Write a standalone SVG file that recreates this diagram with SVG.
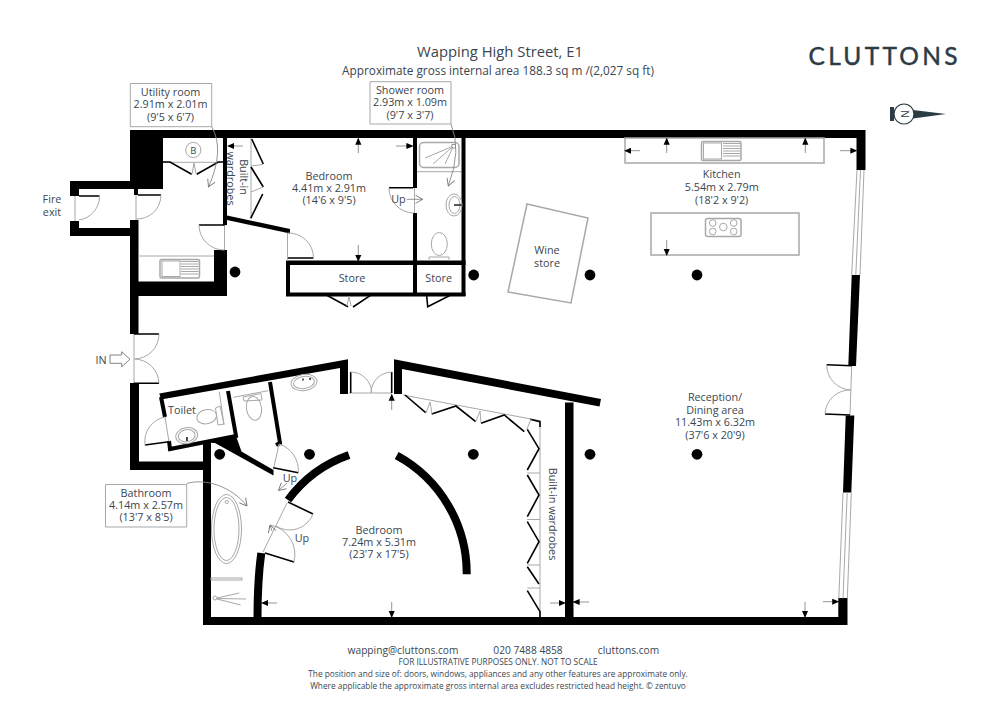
<svg xmlns="http://www.w3.org/2000/svg" width="1000" height="706" viewBox="0 0 1000 706">
<defs>
<style>
text{font-family:"Open Sans","Noto Sans","DejaVu Sans",sans-serif;fill:#3b4650;font-size:10.8px;text-anchor:middle}
.w{fill:#000;stroke:none}
.ws{fill:none;stroke:#000;stroke-width:4}
.k{fill:none;stroke:#000;stroke-width:1.6}
.g{fill:none;stroke:#a8a8a8;stroke-width:1}
.f{fill:#fff;stroke:#a8a8a8;stroke-width:1}
.g2{fill:none;stroke:#a8a8a8;stroke-width:1.5}
.d{fill:#000}
.a{fill:none;stroke:#888;stroke-width:.9}
.ft{font-size:8.3px}
.fm{font-size:10.2px}
</style>
<marker id="ah" viewBox="0 0 8 8" refX="7" refY="4" markerWidth="7" markerHeight="7" orient="auto-start-reverse" markerUnits="userSpaceOnUse"><path d="M0,0.5L8,4L0,7.5Z" fill="#000"/></marker>
<marker id="op" viewBox="0 0 10 10" refX="9" refY="5" markerWidth="9" markerHeight="9" orient="auto" markerUnits="userSpaceOnUse"><path d="M1,0.5L9,5L1,9.5" fill="none" stroke="#777" stroke-width="1"/></marker>
</defs>
<rect width="1000" height="706" fill="#fff"/>

<g id="title">
<text x="500" y="57" style="font-size:14.8px">Wapping High Street, E1</text>
<text x="498" y="75" style="font-size:11.8px">Approximate gross internal area 188.3 sq m /(2,027 sq ft)</text>
<text x="883" y="65" textLength="149" lengthAdjust="spacing" style="font-family:Lato,'Open Sans',sans-serif;font-size:24.5px;font-weight:400;fill:#2d3b45;stroke:#2d3b45;stroke-width:.45">CLUTTONS</text>
</g>
<g id="compass">
<rect x="890" y="107" width="4" height="14" fill="#2d3b45"/>
<path d="M913,110L946,114L913,118.5Z" fill="#2d3b45"/>
<circle cx="904" cy="114" r="10" fill="#fff" stroke="#2d3b45" stroke-width="1.2"/>
<text x="904" y="117.5" transform="rotate(90 904 114)" style="font-size:10px;fill:#2d3b45">N</text>
</g>

<g id="walls">
<path class="w" d="M130,130H865.5V170H856.5V138H163V189H130Z"/>
<path class="w" d="M70,181H134V189H79V196H70Z"/>
<path class="w" d="M134,181H138V195H134Z"/>
<path class="w" d="M70,221H79V228H130V236H70Z"/>
<path class="w" d="M130,220H138.5V334H130Z"/>
<path class="w" d="M138,281.5H214V250H227V296H138Z"/>
<path class="w" d="M223,138H227V225H223Z"/>
<path class="w" d="M227,215.5L290,229V233.5L227,220Z"/>
<path class="w" d="M286,260.5H465.5V265H290V292.5H465.5V296.5H286Z"/>
<path class="w" d="M413,138H417V188H413ZM413,213H417V293H413ZM461.5,138H465.5V296H461.5Z"/>
<path class="w" d="M130,383H139V461.5H203V443H211V617H838.3V598H847.5V625H203V470H130Z"/>
<path class="w" d="M851.7,275H860L856,366H848.3Z"/>
<path class="w" d="M845.7,415.5H854.3L851.3,492.5H843Z"/>
<path class="w" d="M159.3,393.5L348,359.3V394H340V368L161,399.5Z"/>
<path class="ws" d="M161,397L165,417M169,441L170,449L236,436L228,391"/>
<path class="w" d="M210,443L236,436L241.5,451.5L273.5,470V475.5L215,443Z"/>
<path class="ws" d="M270,382L280,443L276,445"/>
<path class="w" d="M394,359.3L601,399L599.5,406.5L402,369V394H394Z"/>
<path class="w" d="M565,402.5H573.5V620H565Z"/>
<path d="M396.7,455.5A134,134 0 0 1 466.7,574.3" fill="none" stroke="#000" stroke-width="8"/>
<path d="M349,455A128,128 0 0 0 288,500" fill="none" stroke="#000" stroke-width="8"/>
<path d="M261.3,553Q257.5,580 257.5,618" fill="none" stroke="#000" stroke-width="8"/>
</g>

<g id="windows">
<path class="g" d="M857,170L851.7,275M860.5,170L855.8,275M864,170L860,275"/>
<path class="g" d="M843,492.5L838.8,598.5M847.2,492.5L843,598.5M851.3,492.5L847.3,598.5"/>
</g>

<g id="doors">
<path class="g" d="M75,196V221M136,195V220M134,334V383M224.5,225V250M287.5,233V261M414.5,188V213M165,417L169,442M279,444L273.5,469M287,503L263,552M349,393H392M851.7,366L850,415"/>
<path class="k" d="M79,196H99.5M138,195H161M134,334H159M134,383.3H159M199,225H224.5M288,258H313.5M389,187.7H413M145,445L169,441.7M273.3,467.7L298.3,472.7M288,502L313,514M265,553L294,562M350.7,372V393M391.7,372V393M826.7,364.7L851.7,365.7M825,414L850,415"/>
<path class="g" d="M99.5,196A24,24 0 0 1 79,220M161,195A24,24 0 0 1 136,219M159,334A25,25 0 0 1 134.5,359M159,383.3A25,25 0 0 0 134.5,359M199,225A25,25 0 0 0 224.5,250M287.5,233A25,25 0 0 1 313.5,258M389,188A25,25 0 0 0 413.5,213M165,417A25,25 0 0 0 145,445M279,444A28,28 0 0 1 298.3,472.7M313,514A25,25 0 0 1 276,526M294,562A30,30 0 0 0 270,525M350.7,372A21,21 0 0 1 371.7,393M391.7,372A21,21 0 0 0 371,393M826.7,365A25,25 0 0 0 851,390M825,414A25,25 0 0 1 851,390"/>
<path class="k" d="M325,294.3L348,306.7M353,307L372,294.3M426.7,296L427.7,306.7L450.7,295"/>
<path class="g" d="M347,306L349,296L351,306"/>
</g>

<g id="wardrobes">
<path class="g" d="M163,162.3H220M251,138V218M403,395L540,420.7V617"/>
<path class="k" d="M163,162H170L191.7,174.3M196.7,174.3L218.3,162H223"/>
<path class="g" d="M192,174L194,163L196,174"/>
<path class="k" d="M251.7,139L263.3,164M251,167L263.3,187M262.7,194L250.7,218.3"/>
<path class="g" d="M251,166L263,164.5M263,187L251,192"/>
<path class="k" d="M405,395L425.7,412.7M431.7,414L456,406L475.7,421.7M481,423.3L504.3,415L524.3,431.7M530,419.3L540,421.7V427"/>
<path class="g" d="M426,413L430,402L432,414M475.7,421.7L480,411L481,423M527,429L531,419"/>
<path class="k" d="M527.3,429.3L539,448.7L527.3,470M527.3,475L539,495L527.3,516.7M527.3,521.7L539,541.7L527.3,563.3M527.3,566.7L539,584M527.3,590.7L540,611.7V617"/>
<path class="g" d="M527.3,473H540M527.3,519.5H540M527.3,565H540M527.3,588H540"/>
</g>

<g id="columns">
<circle class="d" cx="235" cy="272" r="5.4"/><circle class="d" cx="473.7" cy="275" r="5.4"/><circle class="d" cx="590" cy="275" r="5.4"/><circle class="d" cx="697" cy="275" r="5.4"/>
<circle class="d" cx="219.7" cy="454.3" r="5.4"/><circle class="d" cx="309.5" cy="454.3" r="5.4"/><circle class="d" cx="473.3" cy="454.3" r="5.4"/><circle class="d" cx="590" cy="454.3" r="5.4"/><circle class="d" cx="697" cy="454.3" r="5.4"/>
</g>

<g id="fixtures">
<circle class="g" cx="193.3" cy="150" r="7.6"/>
<text x="193.3" y="153.5" style="font-size:9.5px">B</text>
<path class="g" d="M138,256H214"/>
<g id="utility-sink"><rect class="g2" x="160" y="259.5" width="39.5" height="18.5" rx="1.5"/><rect class="g" x="162" y="261" width="18" height="15.5"/><path class="g" d="M181,261.5H198.5M181,264H198.5M181,266.5H198.5M181,269H198.5M181,271.5H198.5M181,274H198.5"/></g>
<rect class="g2" x="419.5" y="142.5" width="39.5" height="25" rx="4"/>
<path class="g" d="M417,171.7H461M453.5,146L425,158M453.5,146L433,164M453.5,146L445,164"/>
<rect x="452" y="144.5" width="3.5" height="3.5" fill="#fff" stroke="#888" stroke-width=".8"/>
<ellipse class="g" cx="454" cy="205" rx="8" ry="11"/><ellipse class="g" cx="454.5" cy="205" rx="5.5" ry="8.5"/>
<path d="M454,205H461.5" stroke="#000" stroke-width="1.3"/>
<ellipse class="g" cx="439.3" cy="244" rx="8" ry="11.5"/><path class="g" d="M429,261V257H449V261"/>
<path class="g2" d="M527,204L588,218L571,303L508,292Z"/>
<rect class="g2" x="625" y="138" width="199" height="25"/>
<g id="kitchen-sink"><rect class="g2" x="701.5" y="141.5" width="39.5" height="19" rx="1.5"/><rect class="g" x="703.5" y="143" width="18" height="16"/><path class="g" d="M723,143.5H740M723,146H740M723,148.5H740M723,151H740M723,153.5H740M723,156H740"/></g>
<rect class="g2" x="651" y="213" width="148" height="42"/>
<rect class="g2" x="705.5" y="218.5" width="35.5" height="18" rx="2"/>
<circle class="g" cx="712.7" cy="223" r="3.3"/><circle class="g" cx="712.7" cy="231.5" r="3.3"/><circle class="g" cx="733.7" cy="223" r="3.3"/><circle class="g" cx="733.7" cy="231.5" r="3.3"/><circle class="g" cx="723.3" cy="227" r="3.8"/>
<g transform="rotate(-10 186.7 435.7)"><ellipse class="g" cx="186.7" cy="435.7" rx="11" ry="8"/><ellipse class="g" cx="186.7" cy="435.7" rx="8.5" ry="6"/></g>
<path d="M187,437V441" stroke="#000" stroke-width="1.4"/>
<g transform="rotate(-12 206.7 416.7)"><ellipse class="g" cx="206.7" cy="416.7" rx="10" ry="7"/></g>
<path class="g" d="M215.5,408L220,406L224,424L218,425ZM219.3,391.7L224,425"/>
<path class="g" d="M233.3,397.3L268.3,390.7M243,397L261,393.5L262,400L244,401Z"/>
<ellipse class="g" cx="254" cy="408.3" rx="7.5" ry="12" transform="rotate(-8 254 408.3)"/>
<g transform="rotate(-8 304 382.5)"><ellipse class="g" cx="304" cy="382.5" rx="13" ry="8"/><ellipse class="g" cx="304" cy="382.5" rx="10.5" ry="6"/></g>
<path d="M303,378.5V380.5M310,378V380" stroke="#000" stroke-width="1.3"/>
<ellipse class="g" cx="226.5" cy="529" rx="15" ry="34.5"/><ellipse class="g" cx="226.5" cy="529" rx="12.5" ry="31.5"/>
<circle class="g" cx="226.7" cy="502" r="1.6"/>
<rect class="f" x="211" y="578" width="31" height="2"/>
<circle class="g" cx="215" cy="598" r="2"/>
<path class="g" d="M217,598L239.3,593M217,598.5L246,599M217,599L240.7,605"/>
</g>

<g id="connectors">
<path class="a" d="M211.7,126.7Q225,150 208.5,187" marker-end="url(#op)"/>
<path class="a" d="M451,124Q462,150 448.3,186" marker-end="url(#op)"/>
<path class="a" d="M186.7,483.5C205,478 231,486 247,506" marker-end="url(#op)"/>
<path class="a" d="M406.7,199.3H422.7" marker-end="url(#op)"/>
<path class="a" d="M287,483L278.5,490.5" marker-end="url(#op)"/>
<path class="a" d="M272,531L270,525" marker-end="url(#op)"/>
<path class="a" d="M358.3,153V138.5" marker-end="url(#ah)"/>
<path class="a" d="M358.3,245V261" marker-end="url(#ah)"/>
<path class="a" d="M396,146H412.5" marker-end="url(#ah)"/>
<path class="a" d="M243,146H228" marker-end="url(#ah)"/>
<path class="a" d="M666.7,153V138.5" marker-end="url(#ah)"/>
<path class="a" d="M805.3,153V138.5" marker-end="url(#ah)"/>
<path class="a" d="M640,150.7H625" marker-end="url(#ah)"/>
<path class="a" d="M840,150.7H856.5" marker-end="url(#ah)"/>
<path class="a" d="M666.7,240V255" marker-end="url(#ah)"/>
<path class="a" d="M391.7,410V394.5" marker-end="url(#ah)"/>
<path class="a" d="M391.7,602V617" marker-end="url(#ah)"/>
<path class="a" d="M550,603H565" marker-end="url(#ah)"/>
<path class="a" d="M589,602H573.5" marker-end="url(#ah)"/>
<path class="a" d="M277,603H262" marker-end="url(#ah)"/>
<path class="a" d="M823,601.7H838.3" marker-end="url(#ah)"/>
<path class="a" d="M805,601.7V617" marker-end="url(#ah)"/>
<path d="M110,355H121.7V351.7L130,359.3L121.7,366.7V363.3H110Z" fill="#fff" stroke="#777" stroke-width=".9"/>
</g>

<g id="label-utility">
<path class="g" d="M211.7,126.7H130.3V83.5H211.7V126.7"/>
<text x="170.5" y="96">Utility room</text><text x="170.5" y="108.3">2.91m x 2.01m</text><text x="170.5" y="120.5">(9'5 x 6'7)</text>
</g>
<g id="label-shower">
<path class="g" d="M370,81.7H451V124H370Z"/>
<text x="410" y="94">Shower room</text><text x="410" y="106">2.93m x 1.09m</text><text x="410" y="118.5">(9'7 x 3'7)</text>
</g>
<g id="label-bathroom">
<path class="g" d="M105.5,484.5H186.7V527H105.5Z"/>
<text x="146" y="496.5">Bathroom</text><text x="146" y="509">4.14m x 2.57m</text><text x="146" y="521">(13'7 x 8'5)</text>
</g>
<g id="label-bedroom1"><text x="329" y="179.5">Bedroom</text><text x="329" y="192">4.41m x 2.91m</text><text x="329" y="204">(14'6 x 9'5)</text></g>
<g id="label-bedroom2"><text x="379" y="533.5">Bedroom</text><text x="379" y="545.7">7.24m x 5.31m</text><text x="379" y="557.7">(23'7 x 17'5)</text></g>
<g id="label-kitchen"><text x="721.7" y="178">Kitchen</text><text x="721.7" y="191">5.54m x 2.79m</text><text x="721.7" y="203.5">(18'2 x 9'2)</text></g>
<g id="label-reception"><text x="715" y="401">Reception/</text><text x="715" y="414">Dining area</text><text x="715" y="426">11.43m x 6.32m</text><text x="715" y="439">(37'6 x 20'9)</text></g>
<g id="label-wine"><text x="547" y="254">Wine</text><text x="547" y="267">store</text></g>
<g id="label-store1"><text x="352" y="282">Store</text></g>
<g id="label-store2"><text x="438.7" y="282">Store</text></g>
<g id="label-toilet"><text x="182" y="413.5">Toilet</text></g>
<g id="label-fire"><text x="52" y="203">Fire</text><text x="52" y="216">exit</text></g>
<g id="label-in"><text x="101" y="363.5">IN</text></g>
<g id="label-up"><text x="398.5" y="202.5">Up</text><text x="290" y="481.5">Up</text><text x="302" y="541.5">Up</text></g>
<g id="label-wardrobes1"><text transform="translate(239.5 177) rotate(90)">Built-in</text><text transform="translate(227 178.5) rotate(90)">wardrobes</text></g>
<g id="label-wardrobes2"><text transform="translate(549 514) rotate(90)">Built-in wardrobes</text></g>

<g id="footer">
<text class="fm" x="403" y="654">wapping@cluttons.com</text>
<text class="fm" x="528" y="654">020 7488 4858</text>
<text class="fm" x="628.5" y="654">cluttons.com</text>
<text class="ft" x="498" y="664.5">FOR ILLUSTRATIVE PURPOSES ONLY. NOT TO SCALE</text>
<text class="ft" x="498" y="676.5">The position and size of: doors, windows, appliances and any other features are approximate only.</text>
<text class="ft" x="498" y="688.5">Where applicable the approximate gross internal area excludes restricted head height. © zentuvo</text>
</g>
</svg>
